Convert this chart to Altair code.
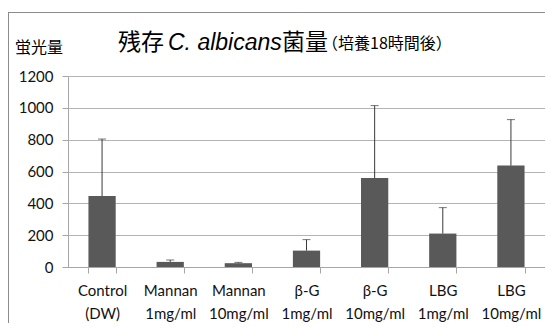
import altair as alt
import pandas as pd

categories = ["Control\n(DW)", "Mannan\n1mg/ml", "Mannan\n10mg/ml", "β-G\n1mg/ml",
              "β-G\n10mg/ml", "LBG\n1mg/ml", "LBG\n10mg/ml"]
means = [446, 32, 24, 103, 559, 210, 637]
errors = [358, 12, 5, 69, 455, 163, 289]
y_ticks = [0, 200, 400, 600, 800, 1000, 1200]

df = pd.DataFrame({"cat": categories, "mean": means, "err": errors})
df["upper"] = df["mean"] + df["err"]

one = pd.DataFrame({"a": [0]})

LATIN = "Lato"
CJK = "Noto Sans CJK JP"

x_axis = alt.Axis(labelExpr="split(datum.label, '\\n')", labelAngle=0,
                  labelFont=LATIN, labelFontSize=15, labelLineHeight=23,
                  labelColor="#111111", labelPadding=10,
                  tickBand="extent", tickSize=6, tickColor="#a6a6a6",
                  domainColor="#a6a6a6", grid=False)
y_axis = alt.Axis(values=y_ticks, tickCount=7, format="d", labelOverlap=False,
                  labelFont=LATIN, labelFontSize=15,
                  labelColor="#111111", labelPadding=9, tickSize=6,
                  tickColor="#a6a6a6", domainColor="#a6a6a6",
                  gridColor="#b4b4b4", grid=True)
x_scale = alt.Scale(paddingInner=0.6, paddingOuter=0.3)
y_scale = alt.Scale(domain=[0, 1200], nice=False)


def X():
    return alt.X("cat:N", sort=categories, title=None, scale=x_scale, axis=x_axis)


def Y(field):
    return alt.Y(field, title=None, scale=y_scale, axis=y_axis)


bars = alt.Chart(df).mark_bar(color="#595959").encode(x=X(), y=Y("mean:Q"))

err_line = alt.Chart(df).mark_rule(color="#3a3a3a", strokeWidth=1).encode(
    x=X(), y=Y("mean:Q"), y2="upper:Q")
err_cap = alt.Chart(df).mark_tick(color="#3a3a3a", thickness=1, size=8).encode(
    x=X(), y=Y("upper:Q"))


def txt(s, x, y, size, font, style="normal"):
    return alt.Chart(one).mark_text(text=s, align="left", baseline="alphabetic",
                                    font=font, fontSize=size, fontStyle=style,
                                    color="#000000").encode(
        x=alt.value(x), y=alt.value(y))


t1 = txt("残存", 50, -26, 23, CJK)
t2 = txt("C. albicans", 100, -26, 23, "Liberation Sans", "italic")
t3 = txt("菌量", 214, -26, 23, CJK)
t4 = txt("（培養18時間後）", 254, -27, 16, CJK)
ytitle = txt("蛍光量", -53, -23, 16, CJK)

border_left = alt.Chart(one).mark_rule(color="#8c8c8c", strokeWidth=1).encode(
    x=alt.value(-59.5), y=alt.value(-64), y2=alt.value(270))
border_top = alt.Chart(one).mark_rule(color="#8c8c8c", strokeWidth=1).encode(
    x=alt.value(-60), x2=alt.value(480), y=alt.value(-63.5))

chart = alt.layer(bars, err_line, err_cap, t1, t2, t3, t4, ytitle,
                  border_left, border_top).properties(
    width=477, height=191,
    autosize=alt.AutoSizeParams(type="none"),
    padding={"left": 60, "top": 68, "right": 0, "bottom": 56},
).configure_view(strokeWidth=0)

chart.save("out.html", embed_options={"renderer": "svg", "actions": False})
